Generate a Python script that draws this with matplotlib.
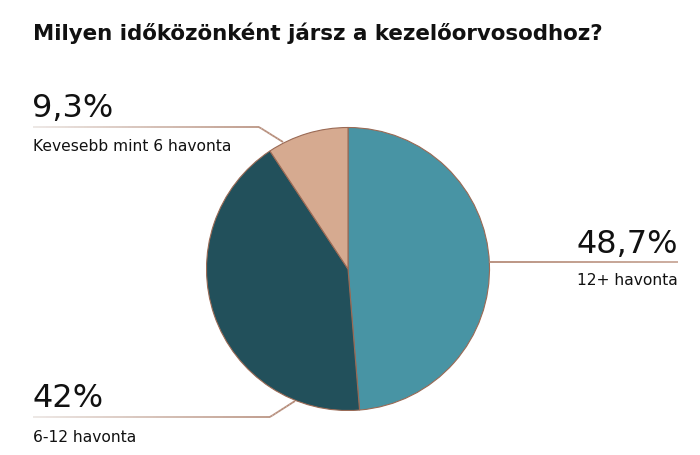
import numpy as np
import matplotlib
matplotlib.use("Agg")
import matplotlib.pyplot as plt
from matplotlib.collections import LineCollection
from matplotlib.colors import to_rgb

title = "Milyen időközönként jársz a kezelőorvosodhoz?"
shares = [48.7, 42.0, 9.3]
pct_labels = ["48,7%", "42%", "9,3%"]
categories = ["12+ havonta", "6-12 havonta", "Kevesebb mint 6 havonta"]
colors = ["#4894a4", "#22505b", "#d6aa90"]

W, H = 700, 456
fig = plt.figure(figsize=(7, 4.56), dpi=100)
ax = fig.add_axes([0, 0, 1, 1])

def Y(y):
    # pixel row -> data y
    return H - y

cx, cy, r = 348, 270, 141.5
ax.pie(shares, colors=colors, startangle=90, counterclock=False,
       center=(cx, Y(cy)), radius=r, frame=True,
       wedgeprops=dict(edgecolor="#9a6a55", linewidth=0.8))
ax.set_xlim(0, W)
ax.set_ylim(0, H)
ax.set_aspect("equal")
ax.axis("off")

brown = np.array(to_rgb("#b48a77"))
light = np.array(to_rgb("#ece6e3"))

def grad_line(pts, c0, c1, n=80):
    pts = np.array([(x, Y(y)) for x, y in pts], dtype=float)
    seglen = np.hypot(*np.diff(pts, axis=0).T)
    t = np.concatenate([[0], np.cumsum(seglen)]) / seglen.sum()
    ts = np.linspace(0, 1, n + 1)
    xs = np.interp(ts, t, pts[:, 0])
    ys = np.interp(ts, t, pts[:, 1])
    segs = [[(xs[i], ys[i]), (xs[i + 1], ys[i + 1])] for i in range(n)]
    cols = [c0 + (c1 - c0) * (i / n) for i in range(n)]
    ax.add_collection(LineCollection(segs, colors=cols, linewidth=1.3))

# leader lines
grad_line([(489, 263), (678, 263)], brown, np.array(to_rgb("#c9a899")))
grad_line([(33, 128), (259, 128), (283, 143)], light, brown)
grad_line([(33, 418), (270, 418), (295, 402)], light, brown)

font = "DejaVu Sans"
big = 23
small = 11.2
ink = "#111111"

# 12+ havonta (right)
ax.text(678, Y(253), pct_labels[0], ha="right", va="baseline", fontsize=big, family=font, color=ink)
ax.text(678, Y(285), categories[0], ha="right", va="baseline", fontsize=small, family=font, color=ink)
# 6-12 havonta (bottom left)
ax.text(32, Y(407), pct_labels[1], ha="left", va="baseline", fontsize=big, family=font, color=ink)
ax.text(33, Y(442), categories[1], ha="left", va="baseline", fontsize=small, family=font, color=ink)
# Kevesebb mint 6 havonta (top left)
ax.text(32, Y(117), pct_labels[2], ha="left", va="baseline", fontsize=big, family=font, color=ink)
ax.text(33, Y(151), categories[2], ha="left", va="baseline", fontsize=small, family=font, color=ink)

ax.text(33, Y(40), title, ha="left", va="baseline", fontsize=15.4, family=font,
        weight="bold", color=ink)

fig.savefig("out.png", dpi=100, facecolor="white")
